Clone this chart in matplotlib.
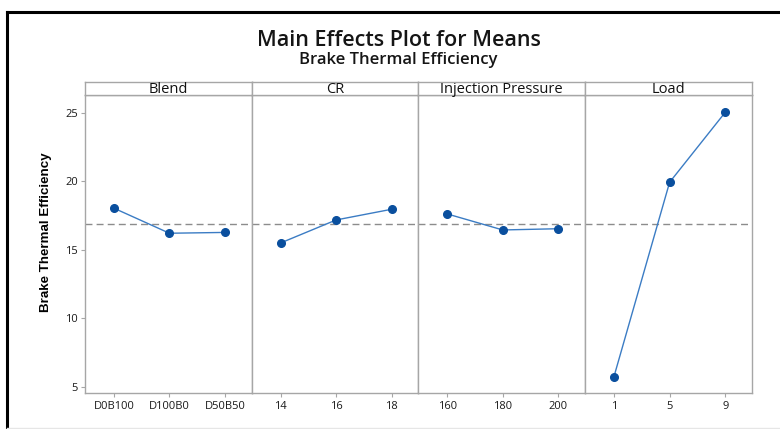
import matplotlib
matplotlib.use("Agg")
import matplotlib.pyplot as plt
from matplotlib.lines import Line2D

plt.rcParams['font.family'] = ['Open Sans', 'DejaVu Sans']

factors = ["Blend", "CR", "Injection Pressure", "Load"]
levels = [["D0B100", "D100B0", "D50B50"], ["14", "16", "18"],
          ["160", "180", "200"], ["1", "5", "9"]]
means = [[18.05, 16.22, 16.28], [15.51, 17.19, 17.97],
         [17.63, 16.46, 16.55], [5.75, 19.94, 25.05]]
grand_mean = 16.9
yticks = [5, 10, 15, 20, 25]

W, H = 780, 429
fig = plt.figure(figsize=(W / 100, H / 100), dpi=100)

def fx(px):
    return px / W

def fy(py):
    return 1 - py / H

# outer frame (black, top and left)
fig.add_artist(Line2D([fx(7), fx(780)], [fy(11.5), fy(11.5)], color='black', lw=2.2))
fig.add_artist(Line2D([fx(7), fx(7)], [fy(11.5), fy(429)], color='black', lw=2.2))
fig.add_artist(Line2D([fx(7), fx(780)], [fy(427.5), fy(427.5)], color='#e6e6e6', lw=1))

fig.text(fx(399), fy(41), "Main Effects Plot for Means", ha='center', va='center',
         fontsize=15.5, weight='semibold', color='#151515')
fig.text(fx(398), fy(60), "Brake Thermal Efficiency", ha='center', va='center',
         fontsize=12, weight='semibold', color='#151515')

edges = [85, 251.7, 418.3, 585, 752]
top, bottom = 95, 393
strip_top = 82
gray = '#a6a6a6'
ylo, yhi = 4.56, 26.31

for i, (fac, lev, m) in enumerate(zip(factors, levels, means)):
    l, r = edges[i], edges[i + 1]
    ax = fig.add_axes([fx(l), fy(bottom), fx(r - l), (bottom - top) / H])
    x = list(range(len(lev)))
    ax.axhline(grand_mean, color='#8c8c8c', lw=1, ls=(0, (5, 3)), zorder=1)
    ax.plot(x, m, color='#3b7cc4', lw=1, zorder=2)
    ax.plot(x, m, ls='none', marker='o', ms=5.5, color='#0a4f9e', zorder=3)
    ax.set_xlim(-0.52, 2.48)
    ax.set_ylim(ylo, yhi)
    ax.set_xticks(x)
    ax.set_xticklabels(lev, fontsize=8, color='#1a1a1a')
    ax.tick_params(axis='x', length=3, width=0.8, color=gray, pad=3)
    if i == 0:
        ax.set_yticks(yticks)
        ax.set_yticklabels([str(v) for v in yticks], fontsize=8, color='#1a1a1a')
        ax.tick_params(axis='y', length=3, width=0.8, color=gray, pad=2)
    else:
        ax.set_yticks([])
    for s in ax.spines.values():
        s.set_color(gray)
        s.set_linewidth(1)
    # strip
    sax = fig.add_axes([fx(l), fy(top), fx(r - l), (top - strip_top) / H])
    sax.set_xticks([]); sax.set_yticks([])
    for s in sax.spines.values():
        s.set_color(gray)
        s.set_linewidth(1)
    sax.text(0.5, 0.42, fac, ha='center', va='center', fontsize=10.5,
             color='#111111', transform=sax.transAxes)

fig.text(fx(46), fy(232), "Brake Thermal Efficiency", rotation=90, ha='center', va='center',
         fontsize=9.6, weight='bold', family=['Liberation Sans', 'DejaVu Sans'])

fig.savefig("out.png", dpi=100)
